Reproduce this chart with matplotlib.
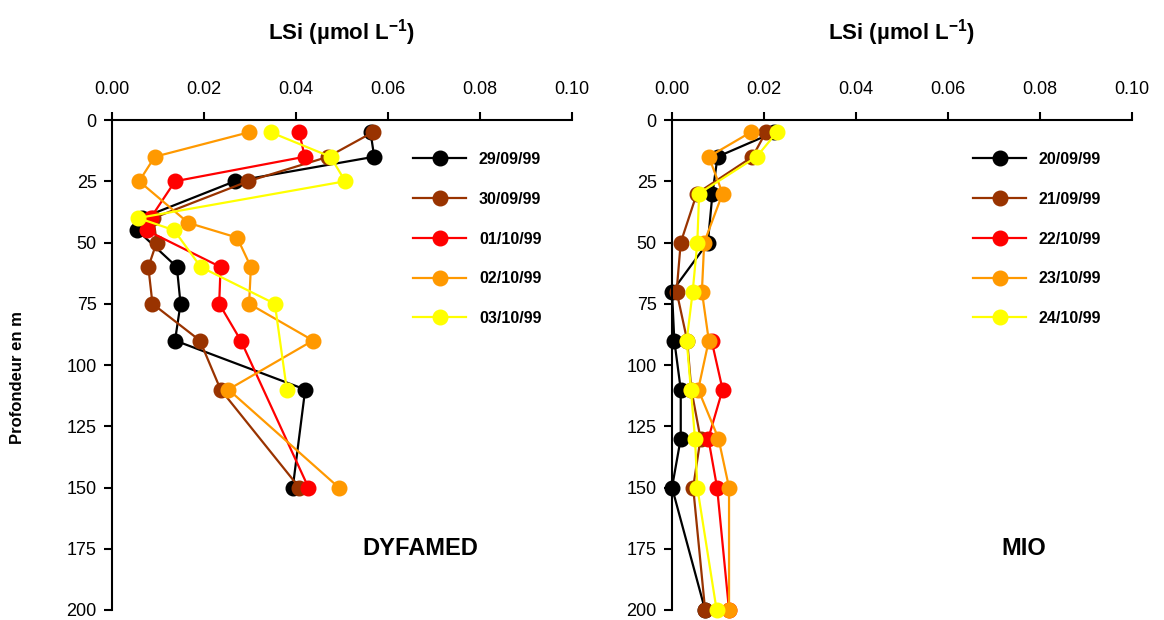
import numpy as np
import matplotlib
matplotlib.use("Agg")
import matplotlib.pyplot as plt

plt.rcParams['font.family'] = ['Liberation Sans', 'DejaVu Sans']
plt.rcParams['mathtext.fontset'] = 'custom'
plt.rcParams['mathtext.rm'] = 'Liberation Sans'
plt.rcParams['mathtext.bf'] = 'Liberation Sans:bold'

# === data: DYFAMED (left panel) ===
dyf_labels = ["29/09/99", "30/09/99", "01/10/99", "02/10/99", "03/10/99"]
dyf_depth_1 = [5, 15, 25, 40, 45, 60, 75, 90, 110, 150]
dyf_lsi_1 = [0.0562, 0.0570, 0.0267, 0.0065, 0.0055, 0.0141, 0.0149, 0.0137, 0.0420, 0.0393]
dyf_depth_2 = [5, 15, 25, 40, 50, 60, 75, 90, 110, 150]
dyf_lsi_2 = [0.0567, 0.0470, 0.0296, 0.0090, 0.0097, 0.0079, 0.0088, 0.0191, 0.0236, 0.0407]
dyf_depth_3 = [5, 15, 25, 40, 45, 60, 75, 90, 150]
dyf_lsi_3 = [0.0407, 0.0419, 0.0137, 0.0084, 0.0075, 0.0236, 0.0233, 0.0280, 0.0427]
dyf_depth_4 = [5, 15, 25, 42, 48, 60, 75, 90, 110, 150]
dyf_lsi_4 = [0.0298, 0.0093, 0.0059, 0.0166, 0.0272, 0.0302, 0.0298, 0.0437, 0.0253, 0.0493]
dyf_depth_5 = [5, 15, 25, 40, 45, 60, 75, 110]
dyf_lsi_5 = [0.0345, 0.0475, 0.0507, 0.0057, 0.0135, 0.0193, 0.0354, 0.0380]

# === data: MIO (right panel) ===
mio_labels = ["20/09/99", "21/09/99", "22/10/99", "23/10/99", "24/10/99"]
mio_depth_1 = [5, 15, 30, 50, 70, 90, 110, 130, 150, 200]
mio_lsi_1 = [0.0222, 0.0099, 0.0088, 0.0078, 0.0000, 0.0005, 0.0019, 0.0019, 0.0000, 0.0072]
mio_depth_2 = [5, 15, 30, 50, 70, 90, 110, 130, 150, 200]
mio_lsi_2 = [0.0204, 0.0175, 0.0054, 0.0019, 0.0010, 0.0033, 0.0042, 0.0062, 0.0046, 0.0072]
mio_depth_3 = [90, 110, 130, 150, 200]
mio_lsi_3 = [0.0086, 0.0110, 0.0079, 0.0098, 0.0124]
mio_depth_4 = [5, 15, 30, 50, 70, 90, 110, 130, 150, 200]
mio_lsi_4 = [0.0171, 0.0080, 0.0110, 0.0070, 0.0065, 0.0080, 0.0057, 0.0101, 0.0124, 0.0124]
mio_depth_5 = [5, 15, 30, 50, 70, 90, 110, 130, 150, 200]
mio_lsi_5 = [0.0228, 0.0184, 0.0059, 0.0055, 0.0045, 0.0032, 0.0041, 0.0050, 0.0055, 0.0097]

colors = ["#000000", "#993300", "#FF0000", "#FF9900", "#FFFF00"]

dyf = [(dyf_lsi_1, dyf_depth_1), (dyf_lsi_2, dyf_depth_2), (dyf_lsi_3, dyf_depth_3),
       (dyf_lsi_4, dyf_depth_4), (dyf_lsi_5, dyf_depth_5)]
mio = [(mio_lsi_1, mio_depth_1), (mio_lsi_2, mio_depth_2), (mio_lsi_3, mio_depth_3),
       (mio_lsi_4, mio_depth_4), (mio_lsi_5, mio_depth_5)]

fig = plt.figure(figsize=(11.64, 6.2), dpi=100)
W, H = 1164, 620
ax1 = fig.add_axes([112 / W, 1 - 610 / H, 460 / W, 490 / H])
ax2 = fig.add_axes([672 / W, 1 - 610 / H, 460 / W, 490 / H])


def draw_panel(ax, series, labels, name, name_x):
    for (x, y), c, lab in zip(series, colors, labels):
        ax.plot(x, y, color=c, lw=1.6, marker='o', ms=10.5, mfc=c, mec=c, label=lab)
    ax.set_xlim(0, 0.10)
    ax.set_ylim(200, 0)
    ax.set_xticks(np.arange(0, 0.101, 0.02))
    ax.set_xticklabels([f"{v:.2f}" for v in np.arange(0, 0.101, 0.02)])
    ax.set_yticks(np.arange(0, 201, 25))
    ax.xaxis.tick_top()
    ax.spines['right'].set_visible(False)
    ax.spines['bottom'].set_visible(False)
    ax.spines['left'].set_linewidth(1.5)
    ax.spines['top'].set_linewidth(1.5)
    ax.tick_params(axis='both', labelsize=13, width=1.5, length=6, pad=5)
    ax.tick_params(axis='x', pad=10)
    ax.set_title("LSi (µmol L$^{\\mathbf{-1}}$)", fontsize=16, fontweight='bold', pad=58)
    ax.text(name_x, 175, name, fontsize=17, fontweight='bold', ha='center', va='center')
    leg = ax.legend(loc='upper left', bbox_to_anchor=(0.638, 0.951), frameon=False,
                    fontsize=11.5, handlelength=3.3, handletextpad=0.8, labelspacing=1.55,
                    borderpad=0)
    for t in leg.get_texts():
        t.set_fontweight('bold')
    for ln in ax.lines:
        ln.set_clip_on(False)


draw_panel(ax1, dyf, dyf_labels, "DYFAMED", 0.067)
draw_panel(ax2, mio, mio_labels, "MIO", 0.0765)

fig.text(18 / W, 1 - 378 / H, "Profondeur en m", rotation=90, fontsize=12,
         fontweight='bold', ha='center', va='center')

fig.savefig("out.png", dpi=100)
